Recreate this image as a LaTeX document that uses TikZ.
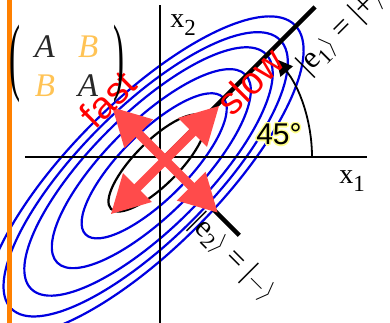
\documentclass[tikz,border=0pt]{standalone}
\usepackage{fontspec}
\setmainfont{Liberation Serif}
\newfontfamily\sansfont{Liberation Sans}
\usepackage{contour}
\usetikzlibrary{arrows.meta,calc}
\definecolor{slideorange}{RGB}{255,128,0}
\definecolor{levelblue}{RGB}{0,0,225}
\definecolor{arrowred}{RGB}{255,75,75}
\definecolor{borange}{RGB}{255,195,85}
\definecolor{adark}{RGB}{40,40,40}
\definecolor{glowyellow}{RGB}{255,255,140}
\contourlength{1.4pt}
\tikzset{
  level/.style={draw=levelblue,line width=2.2pt},
  eigen/.style={line width=4.5pt},
  mode/.style={draw=arrowred,line width=9pt,{Triangle[length=38pt,width=38pt]}-{Triangle[length=38pt,width=38pt]}},
  speed/.style={text=red,font=\sansfont\fontsize{38}{38}\selectfont,rotate=45},
  paren/.style={font=\fontsize{33}{33}\selectfont,inner sep=0pt},
}
\begin{document}
\begin{tikzpicture}[x=1pt,y=1pt]
\useasboundingbox (-160,-166) rectangle (230,157);
\coordinate (O) at (0,0);
\coordinate (C) at (-3,-6);
\coordinate (E) at (3,-2);
\coordinate (R) at (5,-3);
% level sets
\foreach \a/\s in {97/4,133/8,166/12,190/16,213/18}
  \draw[level,shift={(C)},rotate=45] (-\s,0) ellipse [x radius=\a, y radius=\a/2.9];
\draw[line width=2.2pt,shift={(C)},rotate=45] (0,0) ellipse [x radius=65, y radius=22];
% axes
\draw[line width=2pt] (-135,0) -- (207,0);
\draw[line width=2pt] (0,-166) -- (0,152);
\node (x1) at (192,-24) {\fontsize{28}{28}\selectfont x\raisebox{-8pt}{\fontsize{23}{23}\selectfont 1}};
\node (x2) at (23,132) {\fontsize{28}{28}\selectfont x\raisebox{-8pt}{\fontsize{23}{23}\selectfont 2}};
\draw[slideorange,line width=4.5pt] (-150.5,-166) -- (-150.5,157);
% angle
\draw[line width=1.8pt,-{Triangle[length=16pt,width=16pt]}] (152,0) arc[start angle=0,end angle=40,radius=152];
\node (angle) at (119,22) {\sansfont\fontsize{30}{30}\selectfont\contour{glowyellow}{45°}};
% eigenvectors
\draw[eigen] (E) -- ++(45:215) coordinate (e1);
\draw[eigen] (E) -- ++(-45:108) coordinate (e2);
\node[rotate=45] (e1lab) at (181,125) {\fontsize{31}{31}\selectfont |e\textsubscript{1}$\rangle$ = |+$\rangle$};
\node[rotate=-45] (e2lab) at (73,-101) {\fontsize{31}{31}\selectfont |e\textsubscript{2}$\rangle$ = |$-$$\rangle$};
% modes
\draw[mode] ($(R)+(225:77)$) -- ($(R)+(45:77)$);
\draw[mode] ($(R)+(135:75)$) -- ($(R)+(-45:75)$);
\node[speed] (fast) at (-52,58) {fast};
\node[speed] (slow) at (90,76) {slow};
% matrix
\node (hess) at (-93.5,88) {\fontsize{33}{39}\selectfont
  \begin{tabular}{@{}c@{\hspace{23pt}}c@{}}
  \textcolor{adark}{\textit{A}} & \textcolor{borange}{\textit{B}}\\
  \textcolor{borange}{\textit{B}} & \textcolor{adark}{\textit{A}}
  \end{tabular}};
\node[paren] (lpar) at (-145,93.5) {\scalebox{1}[2.6]{(}};
\node[paren] (rpar) at (-41,93.5) {\scalebox{1}[2.6]{)}};
\end{tikzpicture}
\end{document}
